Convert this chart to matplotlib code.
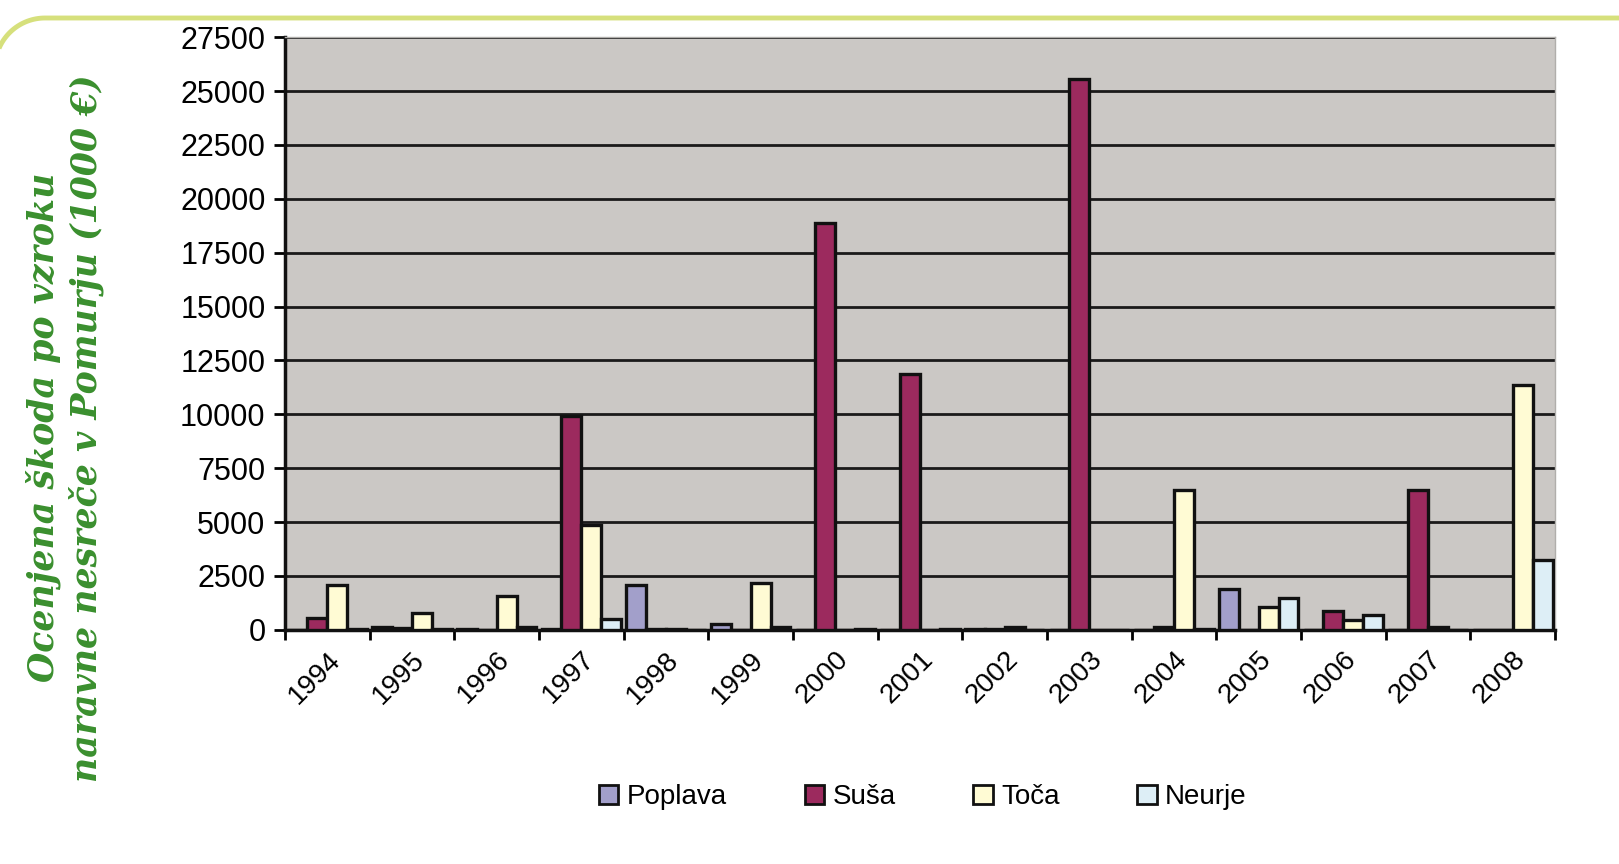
import numpy as np
import matplotlib.pyplot as plt
from matplotlib.lines import Line2D

plt.rcParams["font.family"] = ["Liberation Sans", "DejaVu Sans"]

years = ["1994", "1995", "1996", "1997", "1998", "1999", "2000", "2001",
         "2002", "2003", "2004", "2005", "2006", "2007", "2008"]
poplava = [0, 150, 50, 50, 2100, 280, 0, 0, 50, 0, 0, 1900, 0, 0, 0]
susa = [550, 100, 0, 9900, 50, 0, 18900, 11850, 50, 25550, 150, 0, 880, 6480, 0]
toca = [2100, 800, 1580, 4850, 50, 2180, 0, 0, 150, 0, 6480, 1070, 450, 150, 11350]
neurje = [50, 50, 150, 500, 0, 150, 50, 50, 0, 0, 50, 1480, 680, 0, 3250]

series = [("Poplava", poplava, "#a29fca"),
          ("Suša", susa, "#9c2a5e"),
          ("Toča", toca, "#fffbd4"),
          ("Neurje", neurje, "#ddeef6")]

fig = plt.figure(figsize=(16.19, 8.64), dpi=100)
ax = fig.add_axes([0.176, 0.271, 0.7845, 0.686])
ax.set_facecolor("#cbc8c5")

# decorative rounded corner + top line of the page frame (inches)
r = 0.5
cx, cy = 0.45, 8.46 - r
t = np.linspace(np.pi / 2, np.pi * 1.05, 40)
fx = np.concatenate([[17.0], cx + r * np.cos(t)])
fy = np.concatenate([[8.46], cy + r * np.sin(t)])
fig.add_artist(Line2D(fx, fy, transform=fig.dpi_scale_trans,
                      color="#d6e07c", linewidth=3.5, solid_capstyle="butt"))

x = np.arange(len(years))
w = 0.235
for k, (name, vals, col) in enumerate(series):
    ax.bar(x + (k - 1.5) * w, vals, width=w, color=col, edgecolor="#111111",
           linewidth=2.4, label=name, zorder=3)

ax.set_xlim(-0.5, len(years) - 0.5)
ax.set_ylim(0, 27500)
ax.set_yticks(np.arange(0, 27501, 2500))
ax.yaxis.grid(True, color="#1a1a1a", linewidth=2)
ax.set_axisbelow(True)

ax.set_xticks(x)
ax.set_xticklabels(years, rotation=45, ha="right", rotation_mode="anchor")
ax.set_xticks(np.arange(-0.5, len(years), 1), minor=True)
ax.tick_params(axis="x", which="major", length=0, pad=12, labelsize=20)
ax.tick_params(axis="x", which="minor", length=7, width=2)
ax.tick_params(axis="y", length=8, width=2, labelsize=22, pad=6)

for s in ["top", "right"]:
    ax.spines[s].set_color("#b0aeab")
    ax.spines[s].set_linewidth(1)
for s in ["left", "bottom"]:
    ax.spines[s].set_color("#111111")
    ax.spines[s].set_linewidth(2.5)

fig.text(0.04, 0.505, "Ocenjena škoda po vzroku\nnaravne nesreče v Pomurju (1000 €)",
         rotation=90, ha="center", va="center", color="#3a8f2e",
         fontsize=25, fontweight="bold", fontstyle="italic",
         family=["DejaVu Serif"], linespacing=1.25)

leg = fig.legend(loc="center", bbox_to_anchor=(0.57, 0.077), ncol=4,
                 frameon=False, fontsize=20, handlelength=0.7,
                 handleheight=0.7, handletextpad=0.3, columnspacing=2.8)
for h in leg.legend_handles:
    h.set_linewidth(2)

fig.savefig("out.png", dpi=100)
